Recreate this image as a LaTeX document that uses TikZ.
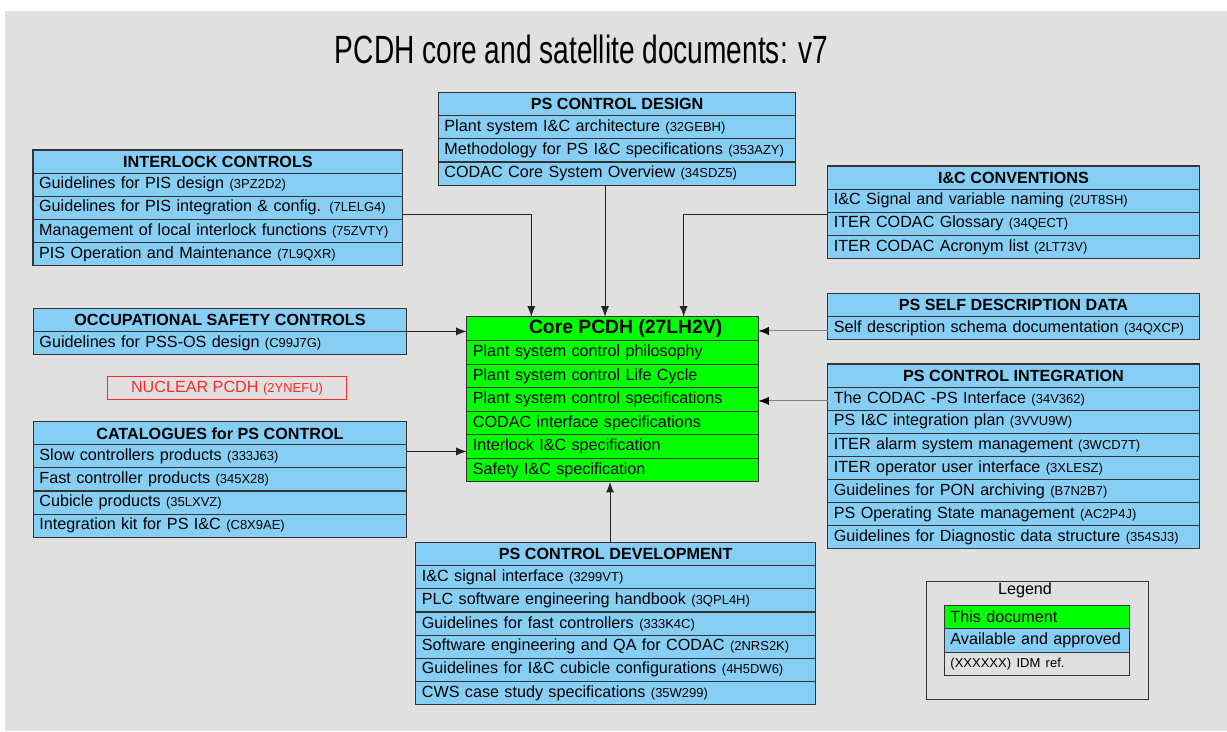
\documentclass[tikz,border=0pt]{standalone}
\usepackage{fontspec}
\setmainfont{Liberation Sans}
\usepackage{graphicx}
\usetikzlibrary{positioning,arrows.meta}
\definecolor{skyblue}{RGB}{135,206,245}
\definecolor{coregreen}{RGB}{0,255,0}
\definecolor{bggray}{RGB}{224,224,224}
\definecolor{nucred}{RGB}{255,40,40}
\newcommand\idm[1]{{\fontsize{7.4}{9}\selectfont(#1)}}
\tikzset{
  hdr/.style={draw=black!80, line width=0.6pt, fill=skyblue, outer sep=0pt,
    font=\bfseries\fontsize{9.2}{11}\selectfont, minimum height=13.15pt,
    inner sep=0pt, anchor=north west, minimum width=#1},
  row/.style={draw=black!80, line width=0.6pt, fill=skyblue, outer sep=0pt,
    font=\fontsize{9.2}{11}\selectfont, minimum height=13.15pt,
    inner ysep=0pt, inner xsep=3.5pt, text width=#1, align=left},
  arr/.style={-{Latex[length=6pt,width=4.6pt]}, black!85, line width=0.55pt},
  arrg/.style={-{Latex[length=6pt,width=4.6pt,color=black]}, black!50, line width=0.55pt}
}
\begin{document}
\begin{tikzpicture}[x=0.02cm,y=-0.02cm]
\useasboundingbox (0,0) rectangle (1227,731);
\fill[bggray] (5,11) rectangle (1227,731);
\node (title) at (581.5,49) {\scalebox{0.714}[1]{\fontsize{22.4}{26}\selectfont PCDH core and satellite documents: v7}};

% core document
\node[hdr=5.832cm, fill=coregreen, minimum height=13.6pt, font=\bfseries\fontsize{11}{13}\selectfont] (core0) at (466.7,316.7) {\hspace*{15pt}Core PCDH (27LH2V)};
\foreach \t [count=\i, remember=\i as \j (initially 0)] in {%
  Plant system control philosophy, Plant system control Life Cycle,
  Plant system control specifications, CODAC interface specifications,
  Interlock I\&C specification, Safety I\&C specification}
  \node[row=5.586cm, fill=coregreen, minimum height=13.4pt, below=0pt of core\j] (core\i) {\t};

% left column
\node[hdr=7.4cm] (ic0) at (33,150) {INTERLOCK CONTROLS};
\foreach \t [count=\i, remember=\i as \j (initially 0)] in {%
  Guidelines for PIS design \idm{3PZ2D2},
  Guidelines for PIS integration \& config. \idm{7LELG4},
  Management of local interlock functions \idm{75ZVTY},
  PIS Operation and Maintenance \idm{7L9QXR}}
  \node[row=7.154cm, below=0pt of ic\j] (ic\i) {\t};

\node[hdr=7.468cm] (occ0) at (33.3,308.3) {OCCUPATIONAL SAFETY CONTROLS};
\node[row=7.222cm, below=0pt of occ0] (occ1) {Guidelines for PSS-OS design \idm{C99J7G}};

\node[draw=nucred, line width=0.6pt, text=nucred, minimum width=4.788cm, minimum height=13.2pt, inner sep=0pt, font=\fontsize{9.2}{11}\selectfont] (nuc) at (227,388.3) {NUCLEAR PCDH \idm{2YNEFU}};

\node[hdr=7.468cm] (cat0) at (33.3,421.7) {CATALOGUES for PS CONTROL};
\foreach \t [count=\i, remember=\i as \j (initially 0)] in {%
  Slow controllers products \idm{333J63},
  Fast controller products \idm{345X28},
  Cubicle products \idm{35LXVZ},
  Integration kit for PS I\&C \idm{C8X9AE}}
  \node[row=7.222cm, below=0pt of cat\j] (cat\i) {\t};

% top and bottom
\node[hdr=7.154cm] (dsg0) at (438.3,92.7) {PS CONTROL DESIGN};
\foreach \t [count=\i, remember=\i as \j (initially 0)] in {%
  Plant system I\&C architecture \idm{32GEBH},
  Methodology for PS I\&C specifications \idm{353AZY},
  CODAC Core System Overview \idm{34SDZ5}}
  \node[row=6.908cm, below=0pt of dsg\j] (dsg\i) {\t};

\node[hdr=8cm] (dev0) at (415.7,542.7) {PS CONTROL DEVELOPMENT};
\foreach \t [count=\i, remember=\i as \j (initially 0)] in {%
  I\&C signal interface \idm{3299VT},
  PLC software engineering handbook \idm{3QPL4H},
  Guidelines for fast controllers \idm{333K4C},
  Software engineering and QA for CODAC \idm{2NRS2K},
  Guidelines for I\&C cubicle configurations \idm{4H5DW6},
  CWS case study specifications \idm{35W299}}
  \node[row=7.754cm, below=0pt of dev\j] (dev\i) {\t};

% right column
\node[hdr=7.432cm] (conv0) at (827.7,166) {I\&C CONVENTIONS};
\foreach \t [count=\i, remember=\i as \j (initially 0)] in {%
  I\&C Signal and variable naming \idm{2UT8SH},
  ITER CODAC Glossary \idm{34QECT},
  ITER CODAC Acronym list \idm{2LT73V}}
  \node[row=7.186cm, below=0pt of conv\j] (conv\i) {\t};

\node[hdr=7.432cm] (self0) at (827.7,293.3) {PS SELF DESCRIPTION DATA};
\node[row=7.186cm, below=0pt of self0] (self1) {Self description schema documentation \idm{34QXCP}};

\node[hdr=7.432cm] (integ0) at (827.7,364) {PS CONTROL INTEGRATION};
\foreach \t [count=\i, remember=\i as \j (initially 0)] in {%
  The CODAC -PS Interface \idm{34V362},
  PS I\&C integration plan \idm{3VVU9W},
  ITER alarm system management \idm{3WCD7T},
  ITER operator user interface \idm{3XLESZ},
  Guidelines for PON archiving \idm{B7N2B7},
  PS Operating State management \idm{AC2P4J},
  Guidelines for Diagnostic data structure \idm{354SJ3}}
  \node[row=7.186cm, below=0pt of integ\j] (integ\i) {\t};

% legend
\node[draw=black!80, line width=0.6pt, minimum width=4.446cm, minimum height=2.354cm, anchor=north west] (leg) at (925.7,581) {};
\node[font=\fontsize{9.2}{11}\selectfont, inner sep=0pt] (legt) at (1025,590) {Legend};
\node[row=3.454cm, fill=coregreen, minimum height=13.3pt, anchor=north west, inner xsep=3.5pt] (leg1) at (944.3,605.3) {This document};
\node[row=3.454cm, minimum height=13.3pt, below=0pt of leg1] (leg2) {Available and approved};
\node[row=3.454cm, fill=bggray, minimum height=13.3pt, below=0pt of leg2] (leg3) {\idm{XXXXXX} {\fontsize{7.4}{9}\selectfont IDM ref.}};

% connectors into the core
\draw[arr] ([yshift=-4.1pt]ic2.east) -| ([xshift=-46.2pt]core0.north);
\draw[arr] ([xshift=-6.9pt]dsg3.south) -- ([xshift=-6.9pt]dsg3.south |- core0.north);
\draw[arr] ([yshift=-8pt]conv1.west) -| ([xshift=40.5pt]core0.north);
\draw[arrg] ([yshift=-1.7pt]self1.west) -- ([yshift=-1.7pt]self1.west -| core0.east);
\draw[arr] (occ0.south east) -- (occ0.south east -| core0.west);
\draw[arr] ([yshift=2.8pt]cat1.east) -- ([yshift=2.8pt]cat1.east -| core0.west);
\draw[arrg] ([yshift=-1.3pt]integ1.west) -- ([yshift=-1.3pt]integ1.west -| core0.east);
\draw[arr] ([xshift=-3.2pt]dev0.north) -- ([xshift=-3.2pt]dev0.north |- core6.south);
\end{tikzpicture}
\end{document}
